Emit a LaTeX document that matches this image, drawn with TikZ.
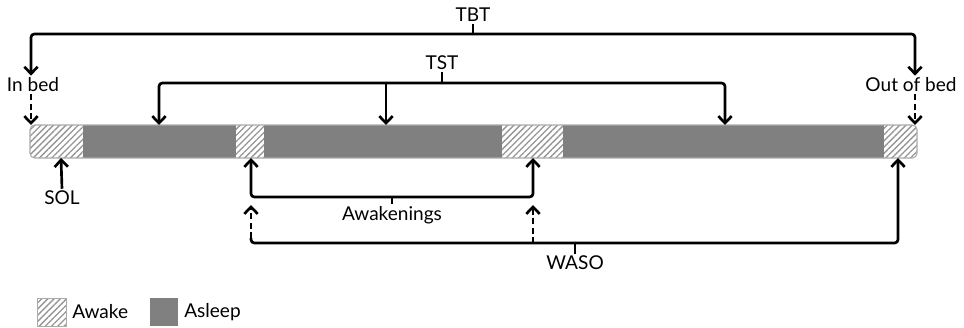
\documentclass[tikz,border=0pt]{standalone}
\usepackage{fontspec}
\setmainfont{Lato}
\usetikzlibrary{arrows.meta,patterns.meta}
\definecolor{sleepgray}{HTML}{808080}
\definecolor{hatchgray}{HTML}{969696}
\definecolor{edgegray}{HTML}{ABABAB}
\tikzset{
  conn/.style={line width=2pt, black},
  arr/.style={conn, -{Straight Barb[length=5.2pt,width=10pt,line width=2pt]}},
  darr/.style={arr, line width=2.2pt, dash pattern=on 4.6pt off 2.4pt},
  brk/.style={conn, rounded corners=2.5pt},
  lbl/.style={font=\fontsize{14.3}{17}\selectfont, inner sep=1.5pt},
  awake/.style={fill=white, pattern={Lines[angle=45,distance=3.3pt,line width=1pt]}, pattern color=hatchgray},
  asleep/.style={fill=sleepgray},
}
\begin{document}
\begin{tikzpicture}[x=0.75pt,y=-0.75pt]
\useasboundingbox[fill=white] (0,0) rectangle (964,328);

% ---- the night, as one bar of awake / asleep segments ----
\begin{scope}
  \clip[rounded corners=3.5pt] (30,125) rectangle (917,158);
  \fill[white] (30,125) rectangle (917,158);
  \fill[awake]  (30,125)  rectangle (83,158);
  \fill[asleep] (83,125)  rectangle (236,158);
  \fill[awake]  (236,125) rectangle (264,158);
  \fill[asleep] (264,125) rectangle (502,158);
  \fill[awake]  (502,125) rectangle (563,158);
  \fill[asleep] (563,125) rectangle (884,158);
  \fill[awake]  (884,125) rectangle (917,158);
\end{scope}
\draw[edgegray, line width=0.8pt, rounded corners=3.5pt] (30,125) rectangle (917,158);

% points on the bar edges
\coordinate (barIn)   at (31,125);
\coordinate (barOut)  at (915,125);
\coordinate (tstA)    at (159,125);
\coordinate (tstB)    at (386,125);
\coordinate (tstC)    at (725,125);
\coordinate (solPt)   at (61,158);
\coordinate (awkA)    at (251,158);
\coordinate (awkB)    at (533,158);
\coordinate (wasoEnd) at (898,158);

% ---- labels ----
\node[lbl] (TBT)    at (473,15)  {TBT};
\node[lbl] (TST)    at (442,63)  {TST};
\node[lbl] (inbed)  at (33,85)   {In bed};
\node[lbl] (outbed) at (911,85)  {Out of bed};
\node[lbl] (SOL)    at (62,198)  {SOL};
\node[lbl] (AWK)    at (392,215) {Awakenings};
\node[lbl] (WASO)   at (575,263) {WASO};

% bracket midpoints
\coordinate (tbtMid)  at (473,34);
\coordinate (tstMid)  at (442,83);
\coordinate (awkMid)  at (392,197);
\coordinate (wasoMid) at (575,243);

% ---- TBT ----
\draw[conn] (tbtMid) -- (TBT.south);
\draw[arr, rounded corners=2.5pt] (tbtMid) -| (inbed.north -| barIn);
\draw[arr, rounded corners=2.5pt] (tbtMid) -| (outbed.north -| barOut);
\draw[darr] (inbed.south -| barIn) -- (barIn);
\draw[darr] (outbed.south -| barOut) -- (barOut);

% ---- TST ----
\draw[conn] (tstMid) -- (TST.south);
\draw[arr, rounded corners=2.5pt] (tstMid) -| (tstA);
\draw[arr, rounded corners=2.5pt] (tstMid) -| (tstC);
\draw[arr] (tstMid -| tstB) -- (tstB);

% ---- SOL ----
\draw[arr] (SOL.north) -- (solPt);

% ---- Awakenings ----
\draw[conn] (awkMid) -- (AWK.north);
\draw[arr, rounded corners=2.5pt] (awkMid) -| (awkA);
\draw[arr, rounded corners=2.5pt] (awkMid) -| (awkB);

% ---- WASO ----
\coordinate (wasoL)  at (251,243);
\coordinate (wasoLup) at (251,238);
\coordinate (dTip)   at (251,205);
\draw[conn] (wasoMid) -- (WASO.north);
\draw[brk] (wasoMid) -- (wasoL) -- (wasoLup);
\draw[darr] (wasoLup) -- (dTip);
\draw[darr] (wasoMid -| awkB) -- (dTip -| awkB);
\draw[arr, rounded corners=2.5pt] (wasoMid) -| (wasoEnd);

% ---- legend ----
\draw[awake, draw=edgegray, line width=0.6pt] (37,298) rectangle (66,326);
\node[lbl, anchor=west] (lgAwake) at (70,312) {Awake};
\fill[asleep] (150,298) rectangle (178,326);
\node[lbl, anchor=west] (lgAsleep) at (182,312) {Asleep};
\end{tikzpicture}
\end{document}
